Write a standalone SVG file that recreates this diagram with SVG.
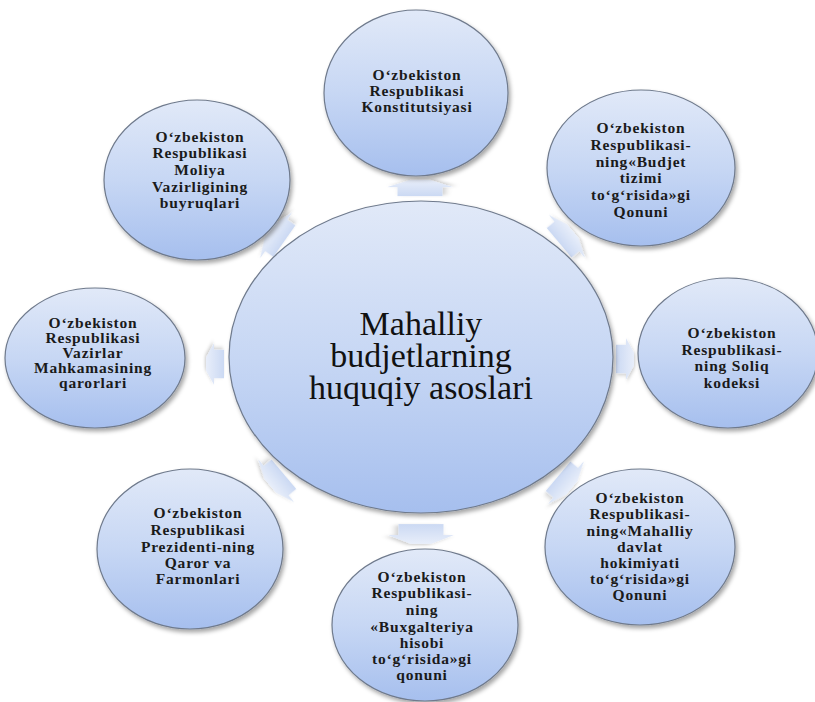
<svg xmlns="http://www.w3.org/2000/svg" width="815" height="702" viewBox="0 0 815 702">
<style>
.node ellipse{fill:url(#g);stroke:#6f7a8c;stroke-width:1.2;filter:url(#sh)}
.t{font-family:"Liberation Serif","Times New Roman",serif;font-size:15.5px;font-weight:bold;fill:#1a1a1a;text-anchor:middle;letter-spacing:0.8px}
.c{font-family:"Liberation Serif","Times New Roman",serif;font-size:34px;fill:#111;text-anchor:middle}
.arr{fill:url(#ga);filter:url(#sha)}
</style>
<defs>
<linearGradient id="g" x1="0" y1="0" x2="0" y2="1">
<stop offset="0" stop-color="#e1e9f8"/>
<stop offset="0.5" stop-color="#c7d7f4"/>
<stop offset="1" stop-color="#a6bfee"/>
</linearGradient>
<linearGradient id="ga" x1="0" y1="0" x2="1" y2="0">
<stop offset="0" stop-color="#cbd9f3"/>
<stop offset="1" stop-color="#e8eefa"/>
</linearGradient>
<filter id="sh" x="-10%" y="-10%" width="125%" height="125%">
<feDropShadow dx="2" dy="3" stdDeviation="2" flood-color="#000" flood-opacity="0.35"/>
</filter>
<filter id="sha" x="-30%" y="-30%" width="160%" height="160%">
<feDropShadow dx="1" dy="1.5" stdDeviation="1.5" flood-color="#000" flood-opacity="0.2"/>
</filter>
<polygon id="ar" points="-9,-11 1,-11 1,-16 9,-5 9,5 1,16 1,11 -9,11"/>
</defs>

<g id="connectors">
<use href="#ar" class="arr" transform="translate(420,188) rotate(-90) scale(0.9,2.05)"/>
<use href="#ar" class="arr" transform="translate(421,534) rotate(90) scale(1.1,2.05)"/>
<use href="#ar" class="arr" transform="translate(625,359) scale(1,1.3)"/>
<use href="#ar" class="arr" transform="translate(215,364) rotate(180) scale(1,1.3)"/>
<use href="#ar" class="arr" transform="translate(277,236) rotate(-145) scale(1,1.75)"/>
<use href="#ar" class="arr" transform="translate(566,237) rotate(-40) scale(1,1.75)"/>
<use href="#ar" class="arr" transform="translate(277,480) rotate(140) scale(1,1.75)"/>
<use href="#ar" class="arr" transform="translate(565,482) rotate(40) scale(1,1.75)"/>
</g>

<g id="center" class="node">
<ellipse cx="421" cy="357" rx="192" ry="156"/>
<text class="c" x="421" y="335">Mahalliy</text>
<text class="c" x="421" y="367">budjetlarning</text>
<text class="c" x="421" y="399">huquqiy asoslari</text>
</g>

<g id="n-konstitutsiya" class="node">
<ellipse cx="416" cy="93" rx="92" ry="83"/>
<text class="t" x="417" y="80">O‘zbekiston</text>
<text class="t" x="417" y="96">Respublikasi</text>
<text class="t" x="417" y="112">Konstitutsiyasi</text>
</g>

<g id="n-budjet" class="node">
<ellipse cx="641" cy="168" rx="94" ry="78"/>
<text class="t" x="641" y="133">O‘zbekiston</text>
<text class="t" x="641" y="150">Respublikasi-</text>
<text class="t" x="641" y="167">ning«Budjet</text>
<text class="t" x="641" y="183">tizimi</text>
<text class="t" x="641" y="200">to‘g‘risida»gi</text>
<text class="t" x="641" y="217">Qonuni</text>
</g>

<g id="n-soliq" class="node">
<ellipse cx="728" cy="353" rx="90" ry="75"/>
<text class="t" x="732" y="338">O‘zbekiston</text>
<text class="t" x="732" y="355">Respublikasi-</text>
<text class="t" x="732" y="371">ning Soliq</text>
<text class="t" x="732" y="388">kodeksi</text>
</g>

<g id="n-mahalliy" class="node">
<ellipse cx="640" cy="547" rx="95" ry="78"/>
<text class="t" x="640" y="503">O‘zbekiston</text>
<text class="t" x="640" y="519">Respublikasi-</text>
<text class="t" x="640" y="536">ning«Mahalliy</text>
<text class="t" x="640" y="552">davlat</text>
<text class="t" x="640" y="568">hokimiyati</text>
<text class="t" x="640" y="584">to‘g‘risida»gi</text>
<text class="t" x="640" y="600">Qonuni</text>
</g>

<g id="n-buxgalteriya" class="node">
<ellipse cx="425" cy="625" rx="93" ry="76"/>
<text class="t" x="422" y="582">O‘zbekiston</text>
<text class="t" x="422" y="598">Respublikasi-</text>
<text class="t" x="422" y="615">ning</text>
<text class="t" x="422" y="632">«Buxgalteriya</text>
<text class="t" x="422" y="648">hisobi</text>
<text class="t" x="422" y="664">to‘g‘risida»gi</text>
<text class="t" x="422" y="680">qonuni</text>
</g>

<g id="n-prezident" class="node">
<ellipse cx="190" cy="549" rx="93" ry="80"/>
<text class="t" x="198" y="518">O‘zbekiston</text>
<text class="t" x="198" y="535">Respublikasi</text>
<text class="t" x="198" y="552">Prezidenti-ning</text>
<text class="t" x="198" y="568">Qaror va</text>
<text class="t" x="198" y="584">Farmonlari</text>
</g>

<g id="n-vazirlar" class="node">
<ellipse cx="95" cy="358" rx="90" ry="70"/>
<text class="t" x="93" y="328">O‘zbekiston</text>
<text class="t" x="93" y="343">Respublikasi</text>
<text class="t" x="93" y="358">Vazirlar</text>
<text class="t" x="93" y="373">Mahkamasining</text>
<text class="t" x="93" y="388">qarorlari</text>
</g>

<g id="n-moliya" class="node">
<ellipse cx="197" cy="180" rx="93" ry="80"/>
<text class="t" x="200" y="142">O‘zbekiston</text>
<text class="t" x="200" y="158">Respublikasi</text>
<text class="t" x="200" y="175">Moliya</text>
<text class="t" x="200" y="192">Vazirligining</text>
<text class="t" x="200" y="208">buyruqlari</text>
</g>
</svg>
